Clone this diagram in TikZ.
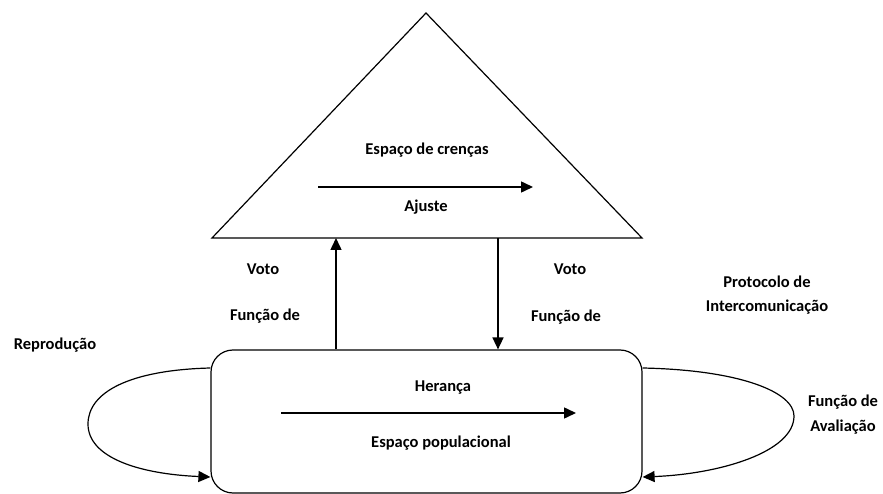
\documentclass[tikz,border=0pt]{standalone}
\usepackage{fontspec}
\setmainfont{Carlito}
\usetikzlibrary{arrows.meta}
\begin{document}
\begin{tikzpicture}[x=1pt,y=-1pt,
  lbl/.style={font=\fontsize{16.5}{19}\selectfont\bfseries, inner sep=0pt, align=center},
  outline/.style={line width=1.2pt},
  conn/.style={line width=1.5pt, -{Triangle[length=12pt,width=11pt]}}]
\useasboundingbox (0,0) rectangle (883,494);
% belief space triangle
\coordinate (apex) at (426,13);
\coordinate (bl) at (212,238);
\coordinate (br) at (642,238);
\draw[outline, line join=miter] (apex) -- (br) -- (bl) -- cycle;
% population space box
\node[draw, outline, rounded corners=22pt, minimum width=431pt, minimum height=143pt, inner sep=0pt] (pop) at (426.5,421.5) {};
% labels
\node[lbl] (crencas) at (427,150) {Espaço de crenças};
\node[lbl] (ajuste) at (426,207) {Ajuste};
\node[lbl] (votoL) at (263,269) {Voto};
\node[lbl] (funcL) at (265,316) {Função de};
\node[lbl] (votoR) at (570,269) {Voto};
\node[lbl] (funcR) at (566,317) {Função de};
\node[lbl] (prot) at (767,282) {Protocolo de};
\node[lbl] (inter) at (767,307) {Intercomunicação};
\node[lbl] (repro) at (55,345) {Reprodução};
\node[lbl] (heranca) at (443,388) {Herança};
\node[lbl] (popul) at (441,443) {Espaço populacional};
\node[lbl] (funcAv) at (843,402) {Função de};
\node[lbl] (aval) at (843,427) {Avaliação};
% inner arrows
\coordinate (ajS) at (318,187);
\coordinate (ajE) at (533,187);
\draw[conn] (ajS) -- (ajE);
\coordinate (heS) at (281,413);
\coordinate (heE) at (576,413);
\draw[conn] (heS) -- (heE);
% vertical connectors
\draw[conn] (pop.north -| 336,0) -- (bl -| 336,0);
\draw[conn] (br -| 498,0) -- (pop.north -| 498,0);
% loops
\coordinate (lS) at (pop.west |- 0,368);
\coordinate (lE) at (pop.west |- 0,477);
\draw[line width=1.2pt, -{Triangle[length=12pt,width=11pt]}] (lS) .. controls (130,370) and (88,392) .. (88,424) .. controls (88,458) and (140,474) .. (lE);
\coordinate (rS) at (pop.east |- 0,368);
\coordinate (rE) at (pop.east |- 0,477);
\draw[line width=1.2pt, -{Triangle[length=12pt,width=11pt]}] (rS) .. controls (740,370) and (794,392) .. (794,416) .. controls (794,452) and (720,474) .. (rE);
\end{tikzpicture}
\end{document}
